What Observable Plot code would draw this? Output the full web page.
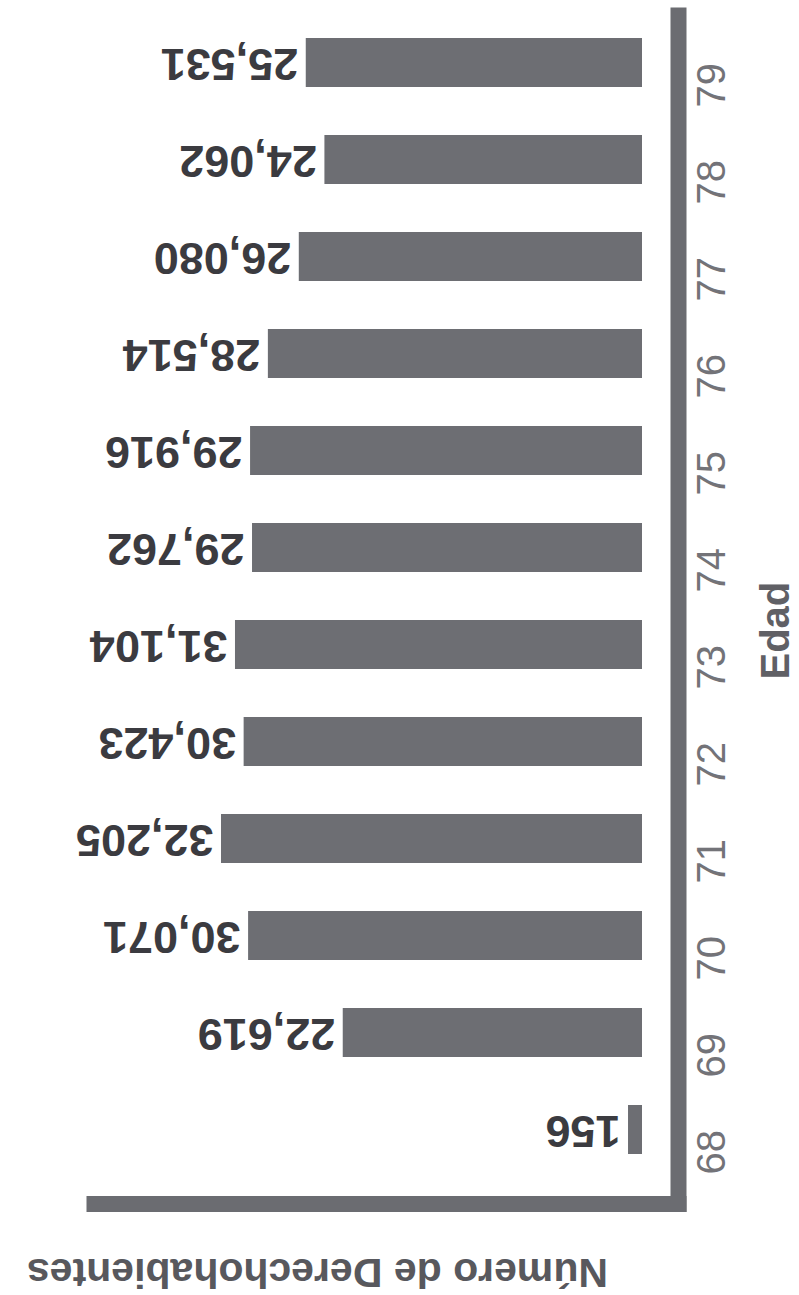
<!DOCTYPE html>
<html>
<head>
<meta charset="utf-8">
<script src="https://cdn.jsdelivr.net/npm/d3@7"></script>
<script src="https://cdn.jsdelivr.net/npm/@observablehq/plot@0.6"></script>
<style>
  html, body { margin: 0; padding: 0; background: #fff; }
  #chart svg { display: block; }
</style>
</head>
<body>
<div id="chart"></div>
<script>
const ages = [68, 69, 70, 71, 72, 73, 74, 75, 76, 77, 78, 79];
const values = [156, 22619, 30071, 32205, 30423, 31104, 29762, 29916, 28514, 26080, 24062, 25531];
const yLabel = "Edad";
const xLabel = "Número de Derechohabientes";

const data = ages.map((a, i) => ({age: a, value: values[i]}));
const fmt = d3.format(",");
const font = "'Liberation Sans', Arial, Helvetica, sans-serif";

const chart = Plot.plot({
  width: 799,
  height: 1295,
  marginTop: 15,
  marginRight: 121,
  marginBottom: 91.5,
  marginLeft: 94,
  style: {fontFamily: font, background: "#fff"},
  x: {domain: [0, 40000], range: [630, 122], axis: null},
  y: {domain: ages.slice().reverse(), range: [10.2, 1181.8], paddingInner: 0.49, paddingOuter: 0.245, axis: null},
  marks: [
    Plot.barX(data, {x: "value", y: "age", fill: "#6d6e73", insetRight: -12}),
    Plot.text(data, {
      x: "value", y: "age", text: d => fmt(d.value),
      textAnchor: "start", rotate: 180, dx: -8,
      fontSize: 45, fontWeight: "bold", fill: "#3b3b40"
    }),
    Plot.text(ages, {
      y: d => d, text: d => String(d), frameAnchor: "right",
      dx: 34, rotate: -90, fontSize: 40, fill: "#737378"
    }),
    Plot.text([yLabel], {
      text: d => d, frameAnchor: "right", dx: 98, dy: -28, rotate: -90,
      fontSize: 40, fontWeight: "bold", fill: "#606065"
    }),
    Plot.text([xLabel], {
      text: d => d, frameAnchor: "bottom", dx: -69, dy: 55, rotate: 180,
      fontSize: 41, fontWeight: "bold", fill: "#58585d"
    }),
    Plot.frame({anchor: "right", stroke: "#6b6c71", strokeWidth: 16, strokeLinecap: "square"}),
    Plot.frame({anchor: "bottom", stroke: "#6b6c71", strokeWidth: 16, strokeLinecap: "square"})
  ]
});
document.getElementById("chart").appendChild(chart);
</script>
</body>
</html>
